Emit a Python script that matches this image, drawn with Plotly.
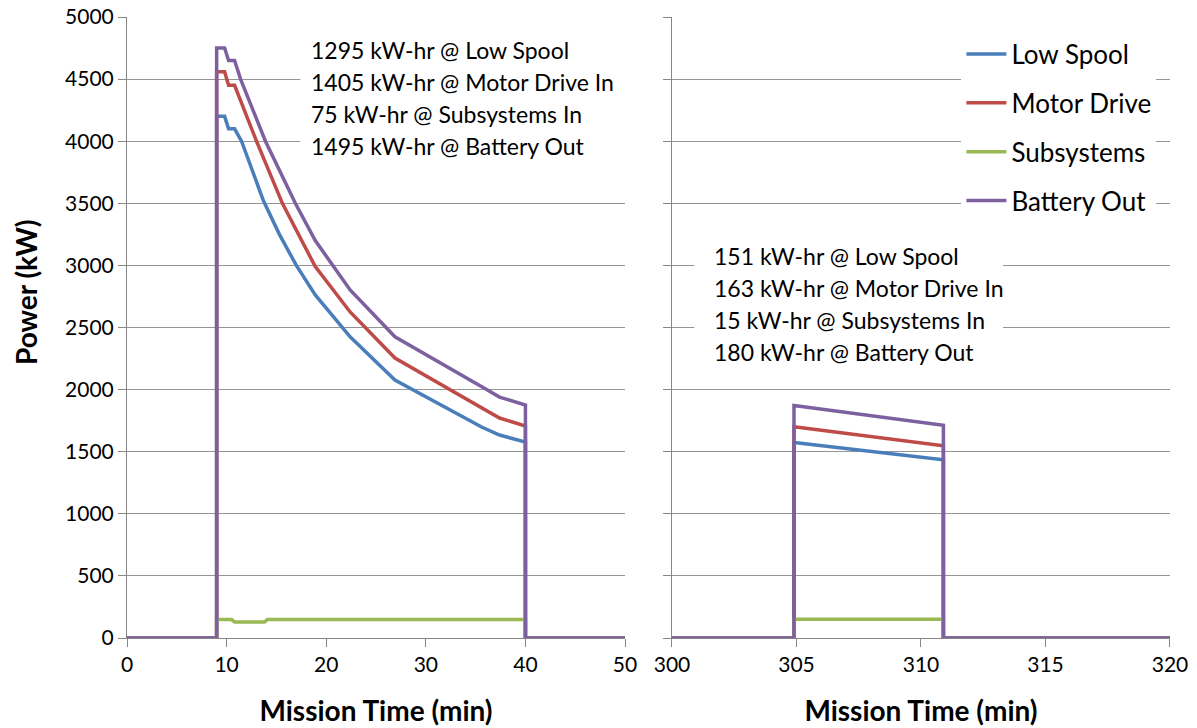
import plotly.graph_objects as go
from plotly.subplots import make_subplots

# ---- data ----
ls_t = [0, 9, 9, 9.8, 10.2, 10.8, 11.5, 12.6, 13.7, 15.3, 17.0, 18.9, 22.4, 26.9, 35.6, 37.4, 40, 40, 50]
ls_p = [0, 0, 4200, 4200, 4100, 4100, 4000, 3750, 3520, 3250, 3000, 2762, 2425, 2077, 1699, 1634, 1578, 0, 0]

md_t = [0, 9, 9, 9.8, 10.2, 10.8, 13.0, 15.6, 18.9, 22.4, 26.9, 35.6, 37.4, 40, 40, 50]
md_p = [0, 0, 4560, 4560, 4450, 4450, 4000, 3500, 2990, 2625, 2254, 1852, 1771, 1707, 0, 0]

ss_t = [0, 9, 9, 10.5, 10.8, 13.8, 14.1, 40, 40, 50]
ss_p = [0, 0, 148, 148, 128, 128, 148, 148, 0, 0]

bo_t = [0, 9, 9, 9.8, 10.2, 10.8, 11.4, 13.9, 16.9, 18.9, 22.4, 26.9, 36.1, 37.4, 40, 40, 50]
bo_p = [0, 0, 4750, 4750, 4650, 4650, 4500, 4000, 3500, 3200, 2802, 2425, 2000, 1940, 1876, 0, 0]

r_t = [300, 304.9, 304.9, 310.9, 310.9, 320]
r_ls = [0, 0, 1575, 1435, 0, 0]
r_md = [0, 0, 1700, 1548, 0, 0]
r_ss = [0, 0, 150, 150, 0, 0]
r_bo = [0, 0, 1872, 1712, 0, 0]

names = ["Low Spool", "Motor Drive", "Subsystems", "Battery Out"]
colors = ["#4A7EBB", "#BE4B48", "#98B954", "#7D60A0"]

left_text = ["1295 kW-hr @ Low Spool", "1405 kW-hr @ Motor Drive In",
             "75 kW-hr @ Subsystems In", "1495 kW-hr @ Battery Out"]
right_text = ["151 kW-hr @ Low Spool", "163 kW-hr @ Motor Drive In",
              "15 kW-hr @ Subsystems In", "180 kW-hr @ Battery Out"]

y_ticks = list(range(0, 5001, 500))
x1_ticks = [0, 10, 20, 30, 40, 50]
x2_ticks = [300, 305, 310, 315, 320]

FONT = "Lato"

fig = make_subplots(rows=1, cols=2, shared_yaxes=False, horizontal_spacing=0.045)

left_series = [(ls_t, ls_p), (md_t, md_p), (ss_t, ss_p), (bo_t, bo_p)]
right_series = [r_ls, r_md, r_ss, r_bo]
for i, (name, col) in enumerate(zip(names, colors)):
    t, p = left_series[i]
    fig.add_trace(go.Scatter(x=t, y=p, mode="lines", name=name,
                             line=dict(color=col, width=3.5),
                             legendgroup=name, showlegend=True), row=1, col=1)
    fig.add_trace(go.Scatter(x=r_t, y=right_series[i], mode="lines", name=name,
                             line=dict(color=col, width=3.5),
                             legendgroup=name, showlegend=False), row=1, col=2)

grid = "#949494"
axis_common = dict(showline=True, linecolor="#868686", linewidth=1,
                   ticks="outside", ticklen=8, tickcolor="#868686",
                   tickfont=dict(family=FONT, size=21, color="#000"),
                   zeroline=False, automargin=False)
x_title_font = dict(family=FONT, size=28, color="#000")
y_title_font = dict(family=FONT, size=28, color="#000")

fig.update_xaxes(range=[0, 50], tickvals=x1_ticks, showgrid=False,
                 title=dict(text="<b>Mission Time (min)</b>", font=x_title_font, standoff=26),
                 domain=[0, 0.4775], **axis_common, row=1, col=1)
fig.update_xaxes(range=[300, 320], tickvals=x2_ticks, showgrid=False,
                 title=dict(text="<b>Mission Time (min)</b>", font=x_title_font, standoff=26),
                 domain=[0.5225, 1], **axis_common, row=1, col=2)
fig.update_yaxes(range=[0, 5000], tickvals=y_ticks, showgrid=True, gridcolor=grid, gridwidth=1,
                 **axis_common, row=1, col=1)
fig.update_yaxes(range=[0, 5000], tickvals=y_ticks, showgrid=True, gridcolor=grid, gridwidth=1,
                 showticklabels=False, **axis_common, row=1, col=2)

# y-axis title (placed as in the reference, slightly above centre)
fig.add_annotation(x=-0.097, y=0.557, xref="paper", yref="paper", text="<b>Power (kW)</b>",
                   showarrow=False, textangle=-90, xanchor="center", yanchor="middle",
                   font=y_title_font)

# white boxes behind the text blocks (hide gridlines)
fig.add_shape(type="rect", xref="x", yref="y", x0=17.4, x1=50, y0=3850, y1=4860,
              fillcolor="white", line=dict(width=0), layer="between")
fig.add_shape(type="rect", xref="x2", yref="y2", x0=300.9, x1=313.3, y0=2170, y1=3200,
              fillcolor="white", line=dict(width=0), layer="between")

left_y = [4734, 4477, 4219, 3961]
right_y = [3076, 2818, 2560, 2303]
for txt, yy in zip(left_text, left_y):
    fig.add_annotation(x=18.25, y=yy, xref="x", yref="y", text=txt, showarrow=False,
                       xanchor="left", yanchor="middle",
                       font=dict(family=FONT, size=23, color="#000"))
for txt, yy in zip(right_text, right_y):
    fig.add_annotation(x=301.6, y=yy, xref="x2", yref="y2", text=txt, showarrow=False,
                       xanchor="left", yanchor="middle",
                       font=dict(family=FONT, size=23, color="#000"))

fig.update_layout(
    width=1197, height=728,
    margin=dict(l=127, r=27, t=17, b=90),
    paper_bgcolor="white", plot_bgcolor="white",
    legend=dict(x=0.80, y=0.978, xanchor="left", yanchor="top",
                bgcolor="white", font=dict(family=FONT, size=26, color="#000"),
                tracegroupgap=12, itemwidth=40, traceorder="grouped"),
    font=dict(family=FONT),
)

fig.write_html("out.html")
